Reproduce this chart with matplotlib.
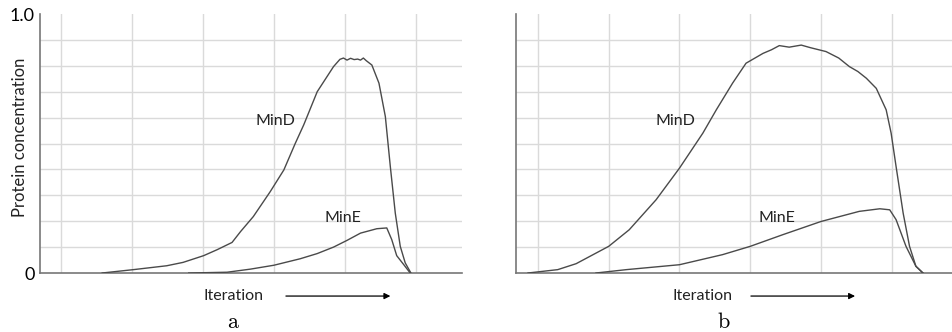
import matplotlib.pyplot as plt

plt.rcParams['font.family'] = ['Lato', 'DejaVu Sans']
plt.rcParams['mathtext.fontset'] = 'cm'

# panel a (x in grid units, y in concentration)
a_mind_x = [0.58, 1.02, 1.49, 1.72, 2.01, 2.20, 2.41, 2.53, 2.71, 2.95, 3.14, 3.30, 3.42, 3.61,
            3.84, 3.93, 3.98, 4.03, 4.08, 4.13, 4.18, 4.22, 4.26, 4.30, 4.38, 4.48, 4.57, 4.64,
            4.71, 4.78, 4.85, 4.93]
a_mind_y = [0.0, 0.013, 0.028, 0.041, 0.067, 0.09, 0.118, 0.16, 0.218, 0.315, 0.398, 0.50, 0.572,
            0.70, 0.797, 0.825, 0.83, 0.822, 0.829, 0.824, 0.826, 0.822, 0.83, 0.82, 0.803, 0.733,
            0.604, 0.411, 0.231, 0.103, 0.039, 0.0]
a_mine_x = [1.80, 2.34, 2.67, 3.00, 3.37, 3.61, 3.84, 4.03, 4.22, 4.45, 4.59, 4.66, 4.73, 4.83, 4.92]
a_mine_y = [0.0, 0.003, 0.015, 0.03, 0.055, 0.075, 0.10, 0.126, 0.154, 0.171, 0.174, 0.129, 0.067,
            0.032, 0.0]

# panel b
b_mind_x = [-0.14, 0.28, 0.54, 1.00, 1.29, 1.67, 2.00, 2.33, 2.52, 2.75, 2.94, 3.18, 3.30, 3.41,
            3.55, 3.72, 3.85, 4.07, 4.25, 4.40, 4.52, 4.64, 4.78, 4.92, 4.99, 5.06, 5.16, 5.25,
            5.34, 5.44]
b_mind_y = [0.0, 0.013, 0.036, 0.103, 0.167, 0.283, 0.405, 0.54, 0.63, 0.733, 0.81, 0.848, 0.862,
            0.878, 0.872, 0.88, 0.87, 0.855, 0.83, 0.797, 0.778, 0.752, 0.713, 0.63, 0.54, 0.411,
            0.231, 0.103, 0.026, 0.0]
b_mine_x = [0.82, 1.25, 2.00, 2.61, 3.00, 3.46, 4.00, 4.54, 4.83, 4.97, 5.06, 5.20, 5.34, 5.44]
b_mine_y = [0.0, 0.013, 0.032, 0.071, 0.103, 0.148, 0.199, 0.238, 0.248, 0.244, 0.206, 0.103,
            0.026, 0.0]

y_ticks = [0.0, 1.0]
y_ticklabels = ['0', '1.0']

panels = [
    dict(rect=[0.042, 0.1777, 0.4433, 0.7801], xlim=(-0.296, 5.65),
         mind=(a_mind_x, a_mind_y), mine=(a_mine_x, a_mine_y),
         mind_lab=(3.02, 0.585), mine_lab=(3.97, 0.212),
         iter_x=2.43, arrow=(3.13, 4.68), letter='a', letter_x=2.43),
    dict(rect=[0.542, 0.1777, 0.458, 0.7801], xlim=(-0.31, 5.85),
         mind=(b_mind_x, b_mind_y), mine=(b_mine_x, b_mine_y),
         mind_lab=(1.94, 0.585), mine_lab=(3.37, 0.212),
         iter_x=2.33, arrow=(2.97, 4.52), letter='b', letter_x=2.63),
]

fig = plt.figure(figsize=(9.52, 3.32), dpi=100)
line_col = '#4a4a4a'

for i, p in enumerate(panels):
    ax = fig.add_axes(p['rect'])
    ax.set_xlim(*p['xlim'])
    ax.set_ylim(0, 1.0)
    for gx in range(0, 6):
        ax.axvline(gx, color='#dadada', lw=1, zorder=0)
    for k in range(1, 10):
        ax.axhline(k / 10, color='#dadada', lw=1, zorder=0)
    ax.plot(*p['mind'], color=line_col, lw=1.0, zorder=3)
    ax.plot(*p['mine'], color=line_col, lw=1.0, zorder=3)
    ax.text(*p['mind_lab'], 'MinD', ha='center', va='center', fontsize=11.5, color='#222222')
    ax.text(*p['mine_lab'], 'MinE', ha='center', va='center', fontsize=11.5, color='#222222')

    for s in ['top', 'right']:
        ax.spines[s].set_visible(False)
    ax.spines['left'].set_color('#777777')
    ax.spines['bottom'].set_color('#777777')
    ax.spines['left'].set_linewidth(1.2)
    ax.spines['bottom'].set_linewidth(1.2)
    ax.set_xticks([])
    if i == 0:
        ax.set_yticks(y_ticks)
        ax.set_yticklabels(y_ticklabels, fontsize=13)
        ax.tick_params(axis='y', length=0, pad=4)
        ax.text(-0.047, 0.525, 'Protein concentration', rotation=90, ha='center', va='center',
                fontsize=12, color='#222222', transform=ax.get_yaxis_transform())
    else:
        ax.set_yticks([])

    ax.text(p['iter_x'], -0.089, 'Iteration', ha='center', va='center', fontsize=11.5,
            color='#222222', clip_on=False)
    ax.annotate('', xy=(p['arrow'][1], -0.089), xytext=(p['arrow'][0], -0.089),
                annotation_clip=False,
                arrowprops=dict(arrowstyle='-|>', color='black', lw=0.9, mutation_scale=9))
    ax.text(p['letter_x'], -0.19, r'$\mathrm{' + p['letter'] + '}$', ha='center', va='center',
            fontsize=16, clip_on=False)

fig.savefig('out.png', dpi=100)
